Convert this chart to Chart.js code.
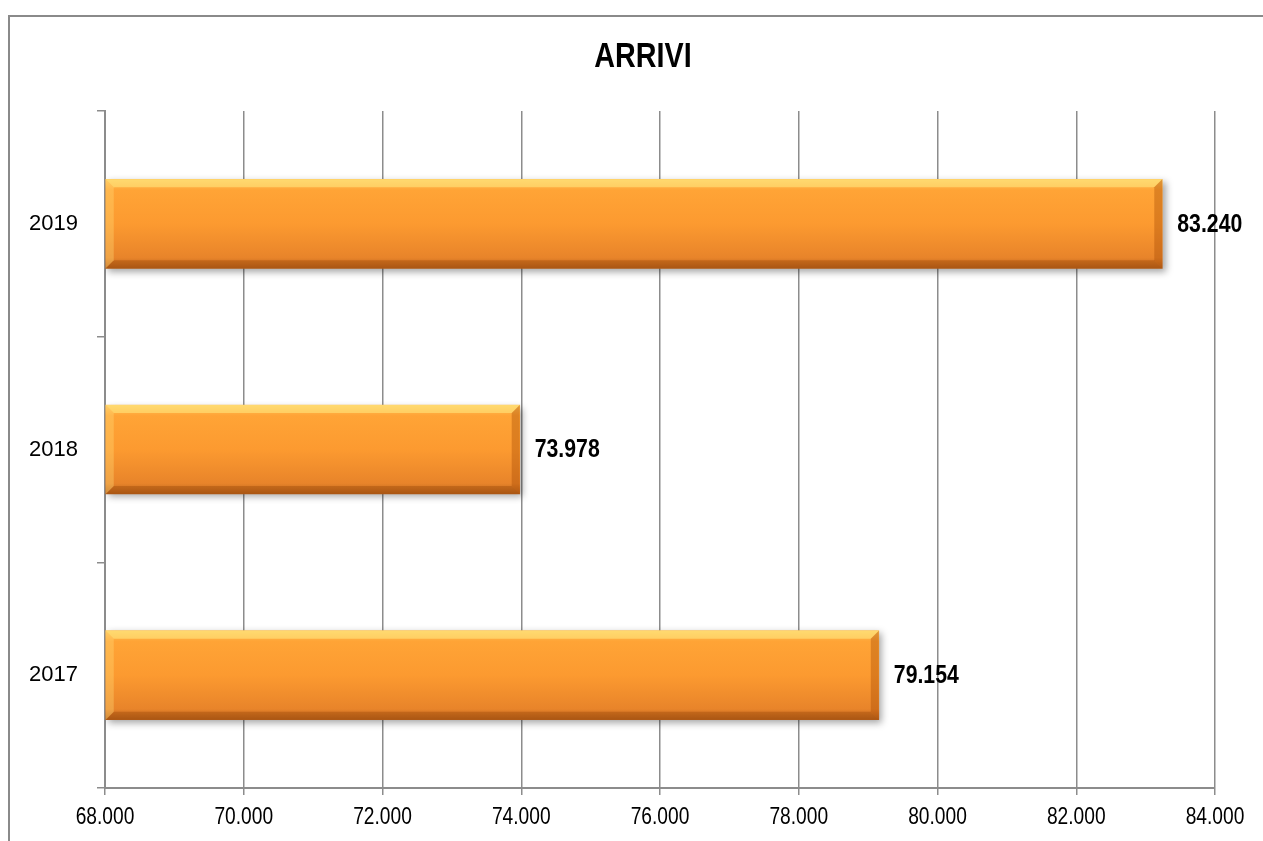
<!DOCTYPE html>
<html lang="it">
<head>
    <meta charset="UTF-8">
    <title>Arrivi</title>
    <script src="https://cdn.jsdelivr.net/npm/chart.js"></script>
    <style>
        html, body { margin: 0; padding: 0; background: #fff; }
        #wrap { width: 1263px; height: 841px; }
    </style>
</head>
<body>
    <div id="wrap"><canvas id="arriviChart"></canvas></div>
    <script>
        // dati
        const years = ['2019', '2018', '2017'];
        const arrivals = [83240, 73978, 79154];
        const axisMin = 68000;
        const axisMax = 84000;
        const axisStep = 2000;

        const sans = '"Liberation Sans", Arial, sans-serif';
        const gridGray = '#8c8c8c';
        const BAR_H = 89;

        function fmt(v) {
            return String(Math.round(v)).replace(/\B(?=(\d{3})+(?!\d))/g, '.');
        }

        // testo "stretto" (tipo Arial Narrow) con una scala orizzontale
        function narrowText(c, text, x, y, font, sx, align) {
            c.save();
            c.font = font;
            c.fillStyle = '#000';
            c.textAlign = align;
            c.textBaseline = 'middle';
            c.translate(x, y);
            c.scale(sx, 1);
            c.fillText(text, 0, 0);
            c.restore();
        }

        const framePlugin = {
            id: 'frame',
            beforeDraw(chart) {
                const c = chart.ctx;
                c.save();
                c.strokeStyle = '#8a8a8a';
                c.lineWidth = 2;
                c.beginPath();
                c.moveTo(9, 841);
                c.lineTo(9, 16);
                c.lineTo(1263, 16);
                c.stroke();
                c.restore();
                narrowText(c, 'ARRIVI', 643, 57, 'bold 35px ' + sans, 0.82, 'center');
            },
            afterDraw(chart) {
                // etichette asse x
                const xs = chart.scales.x;
                const c = chart.ctx;
                xs.ticks.forEach(t => {
                    narrowText(c, fmt(t.value), xs.getPixelForValue(t.value), 817, '24px ' + sans, 0.8, 'center');
                });
            },
            beforeDatasetDraw(chart) {
                const c = chart.ctx;
                c.save();
                c.shadowColor = 'rgba(0,0,0,0.35)';
                c.shadowBlur = 7;
                c.shadowOffsetX = 3;
                c.shadowOffsetY = 3;
            },
            afterDatasetDraw(chart) {
                chart.ctx.restore();
            },
            afterDatasetsDraw(chart) {
                const c = chart.ctx;
                const meta = chart.getDatasetMeta(0);
                const b = 8;
                c.save();
                meta.data.forEach((bar, i) => {
                    const x0 = bar.base, x1 = bar.x;
                    const y0 = bar.y - bar.height / 2, y1 = bar.y + bar.height / 2;
                    // bordo superiore chiaro
                    c.fillStyle = 'rgba(255,235,130,0.55)';
                    c.beginPath();
                    c.moveTo(x0, y0); c.lineTo(x1, y0); c.lineTo(x1 - b, y0 + b); c.lineTo(x0 + b, y0 + b);
                    c.closePath(); c.fill();
                    // bordo inferiore scuro
                    c.fillStyle = 'rgba(140,60,0,0.30)';
                    c.beginPath();
                    c.moveTo(x0, y1); c.lineTo(x1, y1); c.lineTo(x1 - b, y1 - b); c.lineTo(x0 + b, y1 - b);
                    c.closePath(); c.fill();
                    // estremità destra
                    c.fillStyle = 'rgba(160,70,0,0.35)';
                    c.beginPath();
                    c.moveTo(x1, y0); c.lineTo(x1, y1); c.lineTo(x1 - b, y1 - b); c.lineTo(x1 - b, y0 + b);
                    c.closePath(); c.fill();
                    // estremità sinistra
                    c.fillStyle = 'rgba(255,220,120,0.35)';
                    c.beginPath();
                    c.moveTo(x0, y0); c.lineTo(x0, y1); c.lineTo(x0 + b, y1 - b); c.lineTo(x0 + b, y0 + b);
                    c.closePath(); c.fill();
                });
                c.restore();
                // etichette valore
                meta.data.forEach((bar, i) => {
                    narrowText(c, fmt(arrivals[i]), bar.x + 15, bar.y + 1, 'bold 25px ' + sans, 0.85, 'left');
                });
            }
        };

        const ctx = document.getElementById('arriviChart').getContext('2d');
        new Chart(ctx, {
            type: 'bar',
            data: {
                labels: years,
                datasets: [{
                    label: 'Arrivi',
                    data: arrivals,
                    base: axisMin,
                    barThickness: BAR_H,
                    borderWidth: 0,
                    backgroundColor(context) {
                        const chart = context.chart;
                        const ys = chart.scales.y;
                        if (!ys || context.dataIndex === undefined) return '#FF9A30';
                        const yc = ys.getPixelForValue(context.dataIndex);
                        if (!isFinite(yc)) return '#FF9A30';
                        const g = chart.ctx.createLinearGradient(0, yc - BAR_H / 2, 0, yc + BAR_H / 2);
                        g.addColorStop(0, '#FFC45A');
                        g.addColorStop(0.12, '#FFA436');
                        g.addColorStop(0.5, '#FC9A30');
                        g.addColorStop(0.88, '#E8842A');
                        g.addColorStop(1, '#B8621C');
                        return g;
                    }
                }]
            },
            options: {
                indexAxis: 'y',
                responsive: true,
                maintainAspectRatio: false,
                animation: false,
                layout: { padding: { left: 0, right: 48, top: 111, bottom: 0 } },
                plugins: {
                    legend: { display: false },
                    tooltip: { enabled: false },
                    title: { display: false }
                },
                scales: {
                    x: {
                        min: axisMin,
                        max: axisMax,
                        afterFit(scale) { scale.height = 53; },
                        ticks: {
                            stepSize: axisStep,
                            display: false
                        },
                        grid: { color: gridGray, lineWidth: 1.5, tickLength: 7 },
                        border: { color: gridGray, width: 2 }
                    },
                    y: {
                        afterFit(scale) { scale.width = 105; },
                        ticks: {
                            color: '#000',
                            padding: 19,
                            font: { family: sans, size: 22 }
                        },
                        grid: { drawOnChartArea: false, offset: true, color: gridGray, lineWidth: 1.5, tickLength: 8 },
                        border: { color: gridGray, width: 2 }
                    }
                }
            },
            plugins: [framePlugin]
        });
    </script>
</body>
</html>
